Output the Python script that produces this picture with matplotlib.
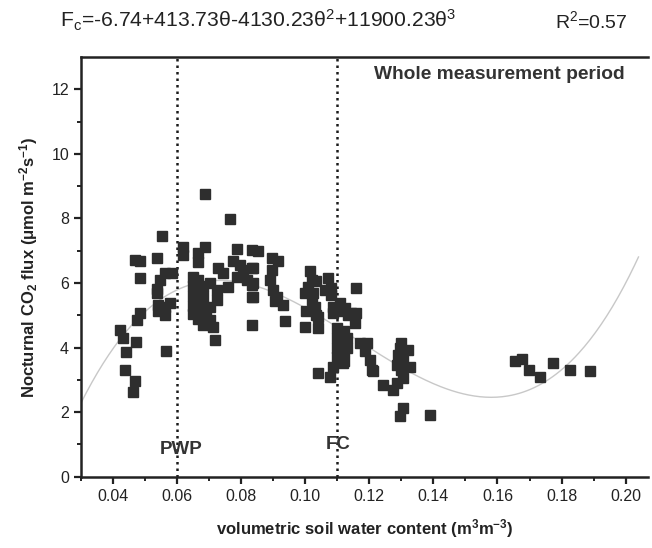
import numpy as np
import matplotlib
matplotlib.use('Agg')
import matplotlib.pyplot as plt

plt.rcParams['font.family'] = ['Liberation Sans', 'DejaVu Sans']
plt.rcParams['mathtext.fontset'] = 'custom'
plt.rcParams['mathtext.rm'] = 'Liberation Sans'
plt.rcParams['mathtext.it'] = 'Liberation Sans:italic'
plt.rcParams['mathtext.bf'] = 'Liberation Sans:bold'

# soil water content (m3 m-3) and nocturnal CO2 flux
theta = [
    0.0687, 0.0765, 0.0552, 0.0619, 0.0619, 0.0687, 0.0666, 0.0666, 0.0786, 0.0833,
    0.0853, 0.0469, 0.0484, 0.0538, 0.0484, 0.0562, 0.0583, 0.0547, 0.0538, 0.0538,
    0.0541, 0.0541, 0.0562, 0.0578, 0.0562, 0.0484, 0.0474, 0.0422, 0.0432, 0.0471,
    0.0441, 0.0437, 0.0469, 0.0463, 0.0565,
    0.0650, 0.0650, 0.0650, 0.0650, 0.0650, 0.0665, 0.0665, 0.0665, 0.0665, 0.0665,
    0.0680, 0.0680, 0.0680, 0.0680, 0.0680,
    0.0703, 0.0724, 0.0724, 0.0703, 0.0692, 0.0703, 0.0713, 0.0718, 0.0729, 0.0744,
    0.0775, 0.0796, 0.0807, 0.0786, 0.0817, 0.0833, 0.0836, 0.0760, 0.0833, 0.0833,
    0.0838, 0.0833, 0.0838,
    0.0895, 0.0916, 0.0895, 0.0890, 0.0900, 0.0911, 0.0905, 0.0931, 0.0937,
    0.1015, 0.1020, 0.1010, 0.0999, 0.1025, 0.1035, 0.1020, 0.1030, 0.1004, 0.1035,
    0.1040, 0.0999, 0.1040,
    0.1072, 0.1062, 0.1082, 0.1082, 0.1087, 0.1087, 0.1108, 0.1113, 0.1124, 0.1134,
    0.1144, 0.1160, 0.1155, 0.1160,
    0.1100, 0.1100, 0.1100, 0.1100, 0.1120, 0.1120, 0.1120, 0.1120, 0.1130, 0.1130,
    0.1087, 0.1118, 0.1040, 0.1077,
    0.1170, 0.1192, 0.1186, 0.1202, 0.1207, 0.1212, 0.1243,
    0.1300, 0.1321, 0.1290, 0.1306, 0.1285, 0.1327, 0.1300, 0.1295, 0.1306, 0.1285,
    0.1275, 0.1306, 0.1295, 0.1389,
    0.1654, 0.1675, 0.1699, 0.1734, 0.1774, 0.1826, 0.1888,
]
flux = [
    8.75, 7.99, 7.46, 7.13, 6.87, 7.13, 6.93, 6.66, 7.06, 7.03,
    7.00, 6.72, 6.69, 6.77, 6.15, 6.30, 6.30, 6.10, 5.81, 5.68,
    5.32, 5.12, 5.27, 5.38, 5.02, 5.07, 4.86, 4.55, 4.29, 4.16,
    3.85, 3.31, 2.98, 2.64, 3.91,
    6.20, 5.90, 5.60, 5.30, 5.05, 6.10, 5.80, 5.50, 5.20, 4.90,
    5.90, 5.60, 5.30, 5.00, 4.70,
    6.00, 5.79, 5.48, 5.27, 5.07, 4.86, 4.65, 4.24, 6.46, 6.30,
    6.67, 6.56, 6.41, 6.20, 6.10, 6.46, 6.00, 5.89, 5.58, 4.71,
    6.46, 5.94, 5.58,
    6.77, 6.67, 6.41, 6.10, 5.79, 5.58, 5.43, 5.32, 4.81,
    6.36, 6.10, 5.89, 5.68, 5.68, 6.05, 5.48, 5.27, 5.12, 5.02,
    4.96, 4.65, 4.60,
    6.15, 5.79, 5.63, 5.84, 5.27, 5.07, 5.38, 5.12, 5.22, 5.02,
    5.07, 5.07, 4.76, 5.84,
    4.60, 4.30, 4.00, 3.70, 4.50, 4.20, 3.90, 3.60, 4.30, 4.00,
    3.41, 3.52, 3.21, 3.10,
    4.14, 4.14, 3.88, 3.62, 3.31, 3.26, 2.85,
    4.14, 3.93, 3.78, 3.62, 3.47, 3.41, 3.31, 3.98, 3.05, 2.90,
    2.69, 2.13, 1.87, 1.92,
    3.59, 3.65, 3.31, 3.10, 3.52, 3.31, 3.28,
]

# cubic fit printed above the plot
coef = [-6.74, 413.73, -4130.23, 11900.23]
pwp = 0.06
fc = 0.11

fig = plt.figure(figsize=(6.52, 5.48), dpi=100)
ax = fig.add_axes([0.124, 0.13, 0.87, 0.766])

tt = np.linspace(0.03, 0.204, 300)
ax.plot(tt, np.polyval(coef[::-1], tt), color='#c8c8c8', lw=1.0, zorder=1)
ax.plot(theta, flux, 's', color='#2e2e2e', ms=7, mec='#2e2e2e', zorder=3)

ax.axvline(pwp, color='#1a1a1a', ls=(0, (1, 1.6)), lw=1.8, zorder=2)
ax.axvline(fc, color='#1a1a1a', ls=(0, (1, 1.6)), lw=1.8, zorder=2)
ax.text(pwp + 0.0012, 0.84, 'PWP', ha='center', va='center', fontsize=13.5,
        fontweight='bold', color='#333')
ax.text(fc + 0.0003, 1.0, 'FC', ha='center', va='center', fontsize=13.5,
        fontweight='bold', color='#333')
ax.text(0.1997, 12.45, 'Whole measurement period', ha='right', va='center',
        fontsize=13.8, fontweight='bold', color='#333')

ax.set_xlim(0.03, 0.207)
ax.set_ylim(0, 13)
ax.set_xticks(np.arange(0.04, 0.201, 0.02))
ax.set_xticks(np.arange(0.03, 0.206, 0.01), minor=True)
ax.set_yticks(range(0, 13, 2))
ax.set_yticks(range(1, 13, 2), minor=True)
ax.xaxis.set_major_formatter(plt.FormatStrFormatter('%.2f'))
ax.tick_params(which='major', direction='out', length=5, width=1.6, labelsize=11.5,
               colors='#222')
ax.tick_params(which='minor', direction='out', length=3, width=1.4, colors='#222')
for s in ['left', 'bottom', 'top']:
    ax.spines[s].set_linewidth(1.8)
    ax.spines[s].set_color('#222')
ax.spines['right'].set_visible(False)

ax.set_xlabel(r'volumetric soil water content (m$^\mathregular{3}$m$^\mathregular{-3}$)',
              fontsize=12, fontweight='bold', color='#222', labelpad=10)
ax.set_ylabel(r'Nocturnal CO$_\mathregular{2}$ flux ($\mathregular{\mu}$mol m$^\mathregular{-2}$s$^\mathregular{-1}$)',
              fontsize=12, fontweight='bold', color='#222', labelpad=8)

fig.text(0.092, 0.962, r'F$_\mathregular{c}$=-6.74+413.73θ-4130.23θ$^\mathregular{2}$+11900.23θ$^\mathregular{3}$',
         fontsize=15.2, va='center', ha='left', color='#222')
fig.text(0.851, 0.962, r'R$^\mathregular{2}$=0.57', fontsize=14, va='center', ha='left', color='#222')

fig.savefig('out.png', dpi=100)
